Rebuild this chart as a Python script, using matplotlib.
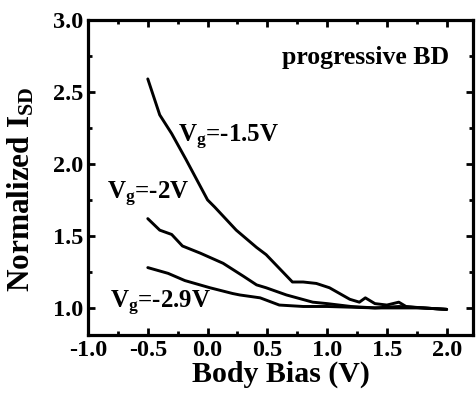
import matplotlib
matplotlib.use('Agg')
import matplotlib.pyplot as plt
from matplotlib.ticker import MultipleLocator, FormatStrFormatter

# values
x_15 = [-0.5, -0.4, -0.3, -0.18, 0.0, 0.06, 0.24, 0.41, 0.49, 0.71, 0.8,
        0.91, 1.02, 1.19, 1.27, 1.32, 1.4, 1.5, 1.6, 1.66, 1.8, 2.0]
y_15 = [2.59, 2.34, 2.21, 2.03, 1.75, 1.70, 1.54, 1.42, 1.37, 1.18, 1.18,
        1.17, 1.14, 1.06, 1.04, 1.07, 1.03, 1.02, 1.04, 1.01, 1.0, 0.99]

x_20 = [-0.5, -0.4, -0.3, -0.21, -0.06, 0.13, 0.3, 0.41, 0.49, 0.66, 0.88,
        1.0, 1.2, 1.4, 1.6, 1.8, 2.0]
y_20 = [1.62, 1.54, 1.51, 1.43, 1.38, 1.31, 1.22, 1.16, 1.14, 1.09, 1.04,
        1.03, 1.01, 1.0, 1.01, 1.0, 0.99]

x_29 = [-0.5, -0.33, -0.19, 0.02, 0.21, 0.27, 0.44, 0.6, 0.8, 1.0, 1.4,
        1.8, 2.0]
y_29 = [1.28, 1.24, 1.19, 1.14, 1.10, 1.09, 1.07, 1.02, 1.01, 1.01, 1.0,
        1.0, 0.99]

plt.rcParams['font.family'] = 'Liberation Serif'
plt.rcParams['font.weight'] = 'bold'
plt.rcParams['mathtext.fontset'] = 'custom'
plt.rcParams['mathtext.rm'] = 'Liberation Serif:bold'
plt.rcParams['mathtext.it'] = 'Liberation Serif:bold'

fig = plt.figure(figsize=(4.77, 4.05), dpi=100)
ax = fig.add_axes([0.1845, 0.173, 0.807, 0.778])

for xs, ys in [(x_15, y_15), (x_20, y_20), (x_29, y_29)]:
    ax.plot(xs, ys, color='black', lw=2.1, solid_capstyle='round')

ax.set_xlim(-1.0, 2.22)
ax.set_ylim(0.8125, 3.0)
ax.xaxis.set_major_locator(MultipleLocator(0.5))
ax.xaxis.set_minor_locator(MultipleLocator(0.25))
ax.yaxis.set_major_locator(MultipleLocator(0.5))
ax.yaxis.set_minor_locator(MultipleLocator(0.25))
ax.xaxis.set_major_formatter(FormatStrFormatter('%.1f'))
ax.yaxis.set_major_formatter(FormatStrFormatter('%.1f'))
ax.tick_params(which='both', direction='in', top=True, right=True,
               width=2, labelsize=17.5)
ax.tick_params(which='major', length=5)
ax.tick_params(which='minor', length=3)
for sp in ax.spines.values():
    sp.set_linewidth(2.3)

ax.set_xlabel('Body Bias (V)', fontsize=21.5, fontweight='bold', labelpad=0)
ax.set_ylabel(r'Normalized I$_{\rm SD}$', fontsize=22.5, fontweight='bold')
ax.yaxis.set_label_coords(-0.135, 0.463)

ax.text(2.02, 2.69, 'progressive BD', fontsize=18.5, fontweight='bold',
        ha='right', va='baseline')
ax.text(-0.25, 2.15, r'V$_{\rm g}$=-1.5V', fontsize=18, fontweight='bold',
        va='baseline')
ax.text(-0.84, 1.75, r'V$_{\rm g}$=-2V', fontsize=18, fontweight='bold',
        va='baseline')
ax.text(-0.82, 1.0, r'V$_{\rm g}$=-2.9V', fontsize=18, fontweight='bold',
        va='baseline')

fig.savefig('out.png', dpi=100)
